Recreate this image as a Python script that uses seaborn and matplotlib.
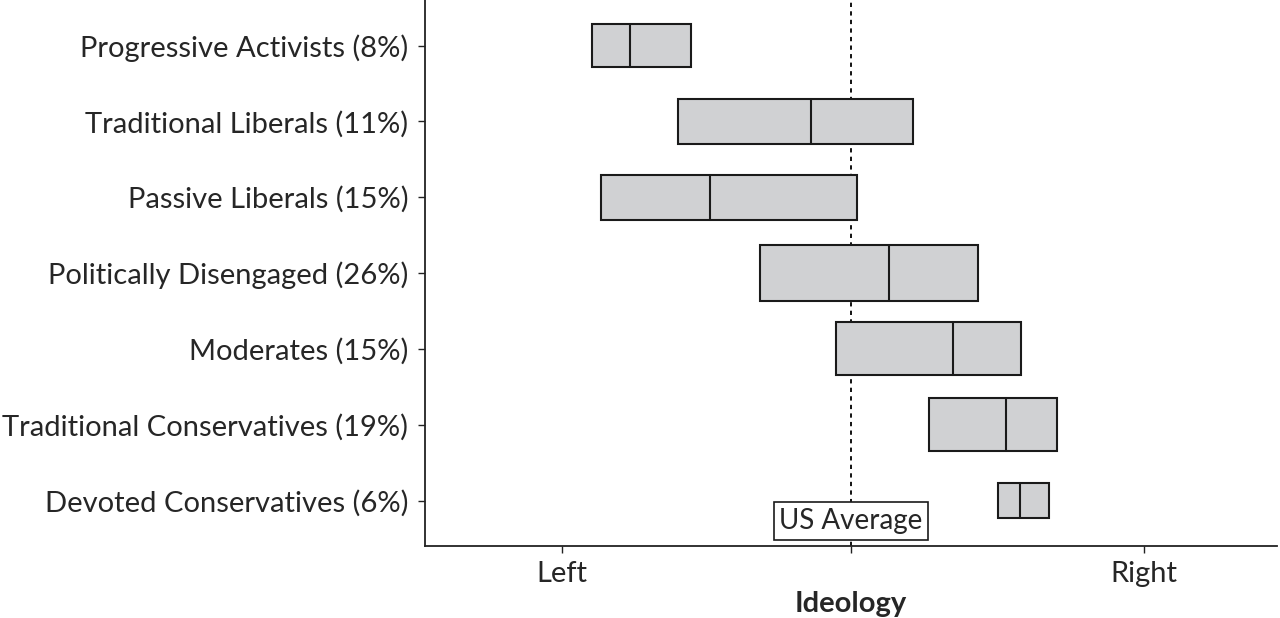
import matplotlib
matplotlib.use("Agg")
import matplotlib.pyplot as plt
import seaborn as sns
import pandas as pd

groups = ["Progressive Activists (8%)", "Traditional Liberals (11%)", "Passive Liberals (15%)",
          "Politically Disengaged (26%)", "Moderates (15%)", "Traditional Conservatives (19%)",
          "Devoted Conservatives (6%)"]
q1 = [0.052, 0.199, 0.067, 0.340, 0.471, 0.632, 0.749]
median = [0.117, 0.428, 0.254, 0.562, 0.672, 0.763, 0.787]
q3 = [0.222, 0.603, 0.507, 0.715, 0.790, 0.852, 0.837]
box_height = [0.58, 0.59, 0.59, 0.74, 0.70, 0.70, 0.45]
us_average = 0.497
x_ticks = [0.0, us_average, 1.0]
x_labels = ["Left", "", "Right"]

df = pd.DataFrame({"group": groups, "q1": q1, "median": median, "q3": q3, "h": box_height})

sns.set_style("white")
plt.rcParams["font.family"] = ["Lato", "DejaVu Sans"]

fig = plt.figure(figsize=(12.8, 6.18), dpi=100)
ax = fig.add_axes([0.332, 0.1165, 0.666, 0.8835])

ypos = list(range(len(df)))
ax.barh(ypos, df["q3"] - df["q1"], left=df["q1"], height=df["h"],
        color="#d0d1d3", edgecolor="#1a1a1a", linewidth=1.5, zorder=3)
for y, m, h in zip(ypos, df["median"], df["h"]):
    ax.plot([m, m], [y - h / 2, y + h / 2], color="#1a1a1a", lw=1.5, zorder=4)

ax.axvline(us_average, color="#111111", lw=1.4, ls=(0, (2.2, 2.2)), zorder=2)
ax.text(us_average, 6.27, "US Average", ha="center", va="center", fontsize=20,
        bbox=dict(boxstyle="square,pad=0.2", fc="white", ec="#1a1a1a", lw=1.2), zorder=5)

ax.set_yticks(ypos)
ax.set_yticklabels(groups, fontsize=21)
ax.set_xticks(x_ticks)
ax.set_xticklabels(x_labels, fontsize=21)
ax.set_xlim(-0.235, 1.230)
ax.set_ylim(6.6, -0.6)
ax.set_xlabel("Ideology", fontsize=21, fontweight="bold", labelpad=3)
ax.set_ylabel("")
ax.tick_params(axis="y", length=5, width=1, color="#222222", direction="out", left=True, pad=7)
ax.tick_params(axis="x", length=5, width=1, color="#222222", direction="out", bottom=True, pad=6)
sns.despine(ax=ax, top=True, right=True)
for s in ["left", "bottom"]:
    ax.spines[s].set_color("#222222")
    ax.spines[s].set_linewidth(1.3)

fig.savefig("out.png", dpi=100, facecolor="white")
